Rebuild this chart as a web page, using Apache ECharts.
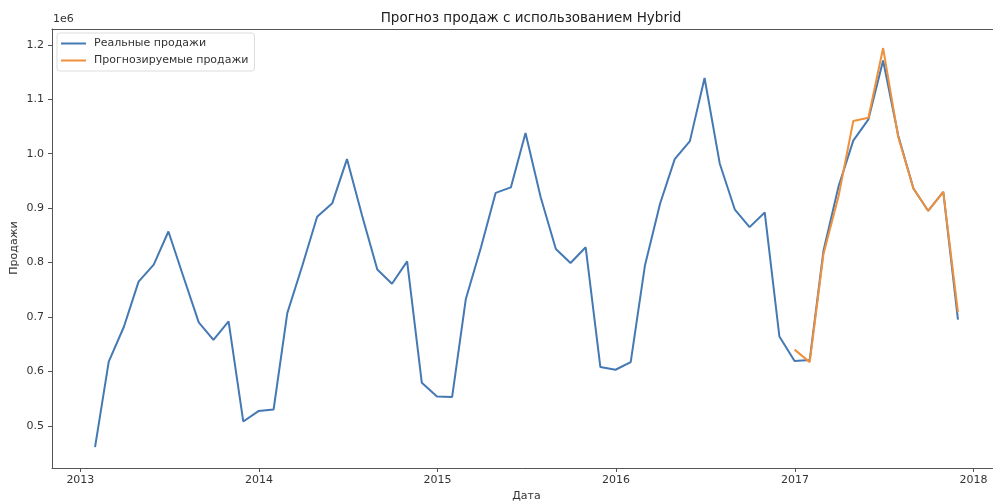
<!DOCTYPE html>
<html>
<head>
<meta charset="utf-8">
<script src="https://cdn.jsdelivr.net/npm/echarts@6/dist/echarts.min.js"></script>
<style>
  html, body { margin: 0; padding: 0; background: #fff; }
  #chart { width: 993px; height: 504px; }
</style>
</head>
<body>
<div id="chart"></div>
<script>
// monthly sales, month-end dates from 2013-01 to 2017-11
var startYear = 2013;
var realSales = [
  461000, 618000, 682000, 765000, 796000, 857000, 773000, 690000, 658000, 692000, 508000, 527000,
  530000, 707000, 795000, 884000, 909000, 990000, 886000, 787000, 761000, 802000, 579000, 554000,
  553000, 733000, 828000, 928000, 938000, 1038000, 920000, 825000, 799000, 828000, 608000, 603000,
  617000, 794000, 908000, 990000, 1023000, 1139000, 982000, 897000, 865000, 892000, 664000, 619000,
  621000, 821000, 940000, 1024000, 1063000, 1171000, 1033000, 936000, 895000, 930000, 695000
];
// forecast starts at 2016-12 (index 47)
var forecastStart = 47;
var forecastSales = [
  640000, 617000, 815000, 922000, 1060000, 1066000, 1194000, 1030000, 936000, 895000, 930000, 709000
];
var yearTicks = [2013, 2014, 2015, 2016, 2017, 2018];
var yTicks = [500000, 600000, 700000, 800000, 900000, 1000000, 1100000, 1200000];

function monthEnd(i) {
  return new Date(startYear, i + 1, 0).getTime();
}

var realData = realSales.map(function (v, i) { return [monthEnd(i), v]; });
var forecastData = forecastSales.map(function (v, i) { return [monthEnd(forecastStart + i), v]; });
var xTickValues = yearTicks.map(function (y) { return new Date(y, 0, 1).getTime(); });
var xMin = new Date(2012, 10, 4).getTime();
var xMax = new Date(2018, 1, 26).getTime();

var font = 'DejaVu Sans';
var chart = echarts.init(document.getElementById('chart'));
chart.setOption({
  animation: false,
  backgroundColor: '#fff',
  textStyle: { fontFamily: font },
  title: {
    text: 'Прогноз продаж с использованием Hybrid',
    left: 526, top: 6, textAlign: 'center',
    textStyle: { fontFamily: font, fontSize: 13.5, fontWeight: 'normal', color: '#222' }
  },
  graphic: [{
    type: 'text', left: 53, top: 14,
    style: { text: '1e6', font: '11px DejaVu Sans', fill: '#333' }
  }, {
    // y axis title
    type: 'text', x: 14, y: 248, rotation: Math.PI / 2,
    style: { text: 'Продажи', font: '11px DejaVu Sans', fill: '#333', align: 'center', verticalAlign: 'middle' }
  }],
  legend: {
    left: 57, top: 33,
    orient: 'vertical',
    icon: 'rect',
    itemWidth: 25, itemHeight: 2, itemGap: 4,
    padding: [4, 6, 4, 4],
    borderColor: '#ddd', borderWidth: 1, borderRadius: 3,
    backgroundColor: 'rgba(255,255,255,0.8)',
    textStyle: { fontFamily: font, fontSize: 11, color: '#333', lineHeight: 13, padding: [0, 0, 0, 3] },
    data: ['Реальные продажи', 'Прогнозируемые продажи']
  },
  grid: {
    left: 52, right: -8, top: 29, bottom: 36,
    containLabel: false, outerBoundsMode: 'none'
  },
  xAxis: [{
    type: 'value',
    min: xMin, max: xMax,
    name: 'Дата', nameLocation: 'middle', nameGap: 22,
    nameTextStyle: { fontFamily: font, fontSize: 11, color: '#333' },
    axisLine: { lineStyle: { color: '#555', width: 1 } },
    axisTick: { show: true, length: 4, lineStyle: { color: '#555' }, customValues: xTickValues },
    axisLabel: {
      fontFamily: font, fontSize: 11, color: '#333', margin: 7,
      customValues: xTickValues,
      formatter: function (v) { return String(new Date(v).getFullYear()); }
    },
    splitLine: { show: false }
  }, {
    // top spine only
    type: 'value', position: 'top',
    min: xMin, max: xMax,
    axisLine: { show: true, lineStyle: { color: '#555', width: 1 } },
    axisTick: { show: false },
    axisLabel: { show: false },
    splitLine: { show: false }
  }],
  yAxis: {
    type: 'value',
    min: 422500, max: 1229000,
    axisLine: { show: true, lineStyle: { color: '#555', width: 1 } },
    axisTick: { show: true, length: 4, lineStyle: { color: '#555' }, customValues: yTicks },
    axisLabel: {
      fontFamily: font, fontSize: 11, color: '#333', margin: 8,
      customValues: yTicks,
      formatter: function (v) { return (v / 1e6).toFixed(1); }
    },
    splitLine: { show: false }
  },
  series: [
    {
      name: 'Реальные продажи', type: 'line', data: realData,
      showSymbol: false, symbol: 'none',
      itemStyle: { color: '#4479b3' },
      lineStyle: { color: '#4479b3', width: 2 }
    },
    {
      name: 'Прогнозируемые продажи', type: 'line', data: forecastData,
      showSymbol: false, symbol: 'none',
      itemStyle: { color: '#f0903a' },
      lineStyle: { color: '#f0903a', width: 2 }
    }
  ]
});
</script>
</body>
</html>
